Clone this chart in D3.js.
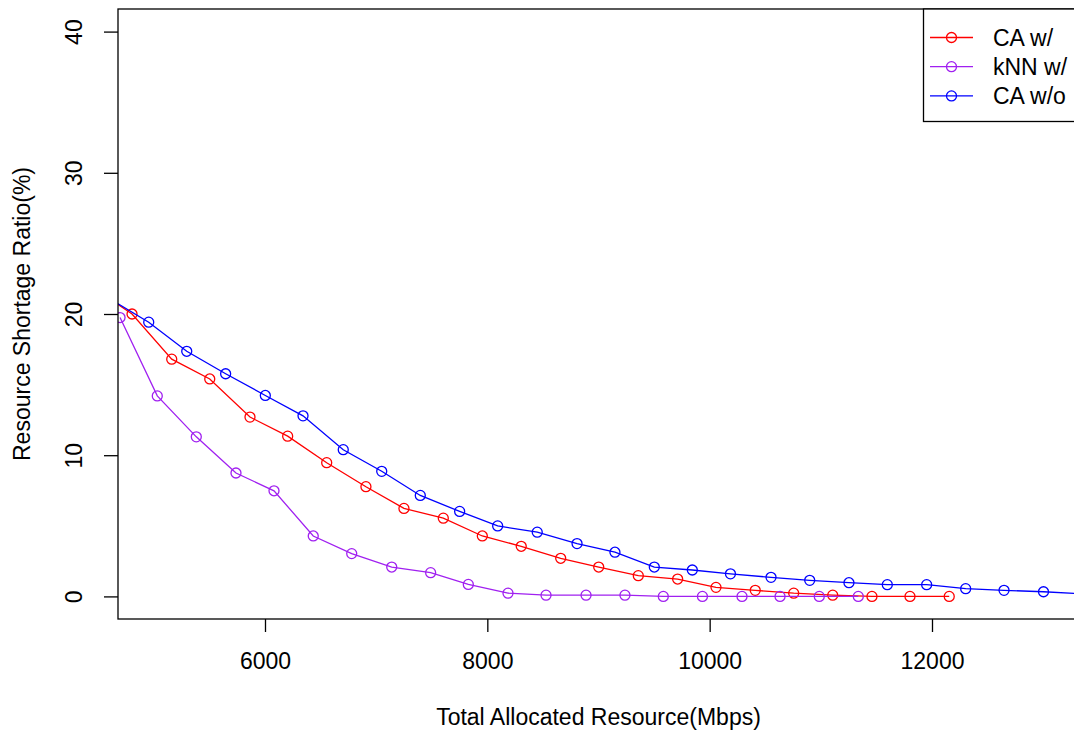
<!DOCTYPE html>
<html>
<head>
<meta charset="utf-8">
<script src="https://cdn.jsdelivr.net/npm/d3@7"></script>
<style>
	body { margin: 0; background: #fff; }
	svg text { font-family: "Liberation Sans", Arial, sans-serif; fill: #000; }
	.line { fill: none; stroke-width: 1.3px; }
	.dot { fill: none; stroke-width: 1.3px; }
</style>
</head>
<body>
<div id="linechart"></div>
<script>
// values (x in Mbps, y in %)
var seriesNames = ["CA w/", "kNN w/", "CA w/o"];
var seriesColors = ["#ff0000", "#a020f0", "#0000ff"];

var caWithX = [4464, 4804, 5161, 5503, 5865, 6204, 6555, 6908, 7250, 7604, 7955, 8305,
	8660, 9002, 9358, 9712, 10057, 10410, 10756, 11107, 11460, 11802, 12155];
var caWithY = [21.8, 20.0, 16.8, 15.4, 12.7, 11.35, 9.47, 7.77, 6.23, 5.54, 4.28, 3.55,
	2.70, 2.08, 1.47, 1.23, 0.64, 0.43, 0.23, 0.09, 0, 0, 0];

var knnWithX = [4696, 5031, 5382, 5739, 6081, 6434, 6780, 7140, 7490, 7829, 8186, 8528,
	8888, 9238, 9583, 9935, 10291, 10633, 10986, 11337];
var knnWithY = [19.75, 14.2, 11.3, 8.74, 7.48, 4.28, 3.03, 2.08, 1.68, 0.85, 0.23, 0.09,
	0.09, 0.09, 0, 0, 0, 0, 0, 0];

var caWithoutX = [4606, 4954, 5296, 5646, 6003, 6342, 6704, 7050, 7397, 7751, 8093, 8449,
	8807, 9148, 9502, 9844, 10187, 10552, 10900, 11253, 11598, 11952, 12303, 12648, 13003, 13349];
var caWithoutY = [21.06, 19.42, 17.36, 15.77, 14.23, 12.79, 10.39, 8.86, 7.15, 6.02, 4.99, 4.55,
	3.74, 3.13, 2.08, 1.87, 1.60, 1.35, 1.14, 0.97, 0.83, 0.83, 0.55, 0.43, 0.33, 0.18];

var xTicks = [6000, 8000, 10000, 12000];
var yTicks = [0, 10, 20, 30, 40];

function linechart(){
	var fullwidth = 1074;
	var fullheight = 736;
	var margin = { top: 9, right: -30, bottom: 117, left: 118 };

	var width = fullwidth - margin.left - margin.right;
	var height = fullheight - margin.top - margin.bottom;

	var svg = d3.select("#linechart")
				.append("svg")
				.attr("width", fullwidth)
				.attr("height", fullheight);

	var svg_line = svg.append("g")
				.attr("transform", "translate(" + margin.left + "," + margin.top + ")");

	// visible plot width is up to the window edge, the box runs past it
	var visWidth = fullwidth - margin.left;

	var xScale = d3.scaleLinear()
				.domain([4677.7, 13277.4])
				.range([0, visWidth]);

	var yScale = d3.scaleLinear()
				.domain([-1.6, 41.6])
				.range([height, 0]);

	var dataset = [
		{ name: seriesNames[0], color: seriesColors[0], points: d3.zip(caWithX, caWithY) },
		{ name: seriesNames[1], color: seriesColors[1], points: d3.zip(knnWithX, knnWithY) },
		{ name: seriesNames[2], color: seriesColors[2], points: d3.zip(caWithoutX, caWithoutY) }
	];

	svg_line.append("clipPath")
		.attr("id", "plotclip")
		.append("rect")
		.attr("x", 0)
		.attr("y", 0)
		.attr("width", width)
		.attr("height", height);

	var line = d3.line()
		.x(function(d) { return xScale(d[0]); })
		.y(function(d) { return yScale(d[1]); });

	var groups = svg_line.append("g")
		.attr("clip-path", "url(#plotclip)")
		.selectAll("g")
		.data(dataset)
		.enter()
		.append("g");

	groups.append("path")
		.attr("class", "line")
		.attr("stroke", function(d) { return d.color; })
		.attr("d", function(d) { return line(d.points); });

	groups.selectAll("circle")
		.data(function(d) {
			return d.points.map(function(p) { return { p: p, color: d.color }; });
		})
		.enter()
		.append("circle")
		.attr("class", "dot")
		.attr("cx", function(d) { return xScale(d.p[0]); })
		.attr("cy", function(d) { return yScale(d.p[1]); })
		.attr("r", 5)
		.attr("stroke", function(d) { return d.color; });

	// box
	svg_line.append("rect")
		.attr("x", 0)
		.attr("y", 0)
		.attr("width", width)
		.attr("height", height)
		.attr("fill", "none")
		.attr("stroke", "#000")
		.attr("stroke-width", 1.3);

	// axes
	var xAxis = d3.axisBottom(xScale)
				.tickValues(xTicks)
				.tickFormat(d3.format("d"))
				.tickSize(13)
				.tickPadding(21);

	var yAxis = d3.axisLeft(yScale)
				.tickValues(yTicks)
				.tickFormat(d3.format("d"))
				.tickSize(14);

	var gx = svg_line.append("g")
		.attr("class", "x axis")
		.attr("transform", "translate(0," + height + ")")
		.call(xAxis);

	var gy = svg_line.append("g")
		.attr("class", "y axis")
		.call(yAxis);

	svg_line.selectAll(".axis .domain").remove();
	svg_line.selectAll(".axis line").attr("stroke", "#000").attr("stroke-width", 1.3);
	svg_line.selectAll(".axis text")
		.attr("font-family", "'Liberation Sans', Arial, sans-serif")
		.attr("font-size", 23)
		.attr("fill", "#000");

	gy.selectAll("text")
		.attr("transform", "rotate(-90)")
		.attr("x", 0)
		.attr("y", -36)
		.attr("dy", 0)
		.attr("text-anchor", "middle");

	// axis titles
	svg.append("text")
		.attr("x", margin.left + xScale(9000) )
		.attr("y", 725)
		.attr("text-anchor", "middle")
		.attr("font-size", 23)
		.text("Total Allocated Resource(Mbps)");

	svg.append("text")
		.attr("transform", "translate(30," + (margin.top + height / 2) + ") rotate(-90)")
		.attr("text-anchor", "middle")
		.attr("font-size", 23)
		.text("Resource Shortage Ratio(%)");

	// legend
	var legend = svg.append("g")
		.attr("class", "legend");

	legend.append("rect")
		.attr("x", 923.5)
		.attr("y", margin.top)
		.attr("width", 200)
		.attr("height", 121.5 - margin.top)
		.attr("fill", "#fff")
		.attr("stroke", "#000")
		.attr("stroke-width", 1.3);

	var items = legend.selectAll("g.item")
		.data(dataset)
		.enter()
		.append("g")
		.attr("class", "item")
		.attr("transform", function(d, i) {
			return "translate(0," + (37.5 + i * 29.2) + ")";
		});

	items.append("line")
		.attr("x1", 930)
		.attr("x2", 973)
		.attr("y1", 0)
		.attr("y2", 0)
		.attr("stroke", function(d) { return d.color; })
		.attr("stroke-width", 1.3);

	items.append("circle")
		.attr("class", "dot")
		.attr("cx", 951.5)
		.attr("cy", 0)
		.attr("r", 5)
		.attr("stroke", function(d) { return d.color; });

	items.append("text")
		.attr("x", 993)
		.attr("y", 0)
		.attr("dy", "0.36em")
		.attr("font-size", 23)
		.text(function(d) { return d.name; });
}
linechart();
</script>
</body>
</html>
